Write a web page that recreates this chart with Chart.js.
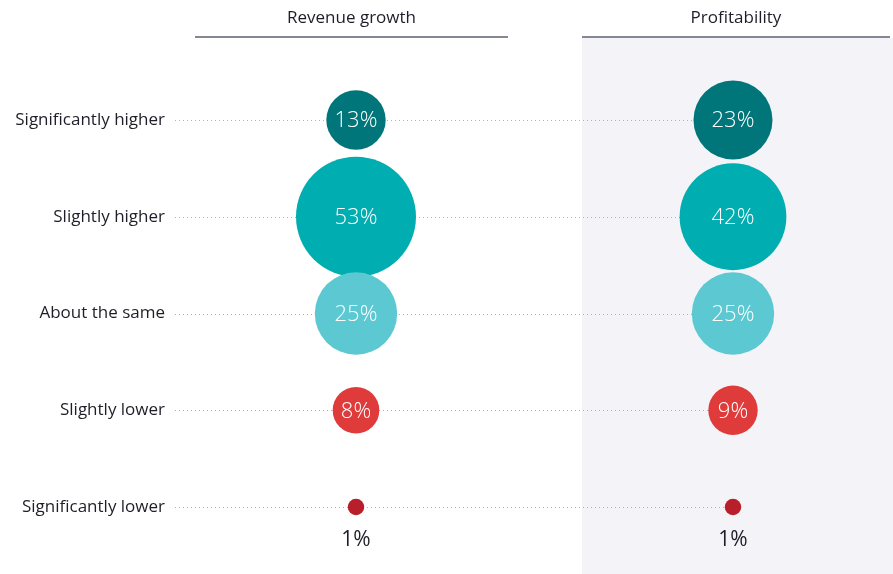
<!DOCTYPE html>
<html>
<head>
<meta charset="utf-8">
<script src="https://cdn.jsdelivr.net/npm/chart.js@4"></script>
<style>
html,body{margin:0;padding:0;background:#fff;}
#wrap{width:893px;height:574px;position:relative;}
</style>
</head>
<body>
<div id="wrap"><canvas id="c" width="893" height="574"></canvas></div>
<script>
const categories = ['Significantly higher', 'Slightly higher', 'About the same', 'Slightly lower', 'Significantly lower'];
const columns = ['Revenue growth', 'Profitability'];
const revenueGrowth = [13, 53, 25, 8, 1];
const profitability = [23, 42, 25, 9, 1];
const rowColors = ['#00767a', '#00adb0', '#5bc8d2', '#e03b3b', '#b81f2a'];

const FONT = '"Open Sans", "Liberation Sans", sans-serif';
const RADIUS_K = 8.24;

function pts(values, col) {
  return values.map((v, i) => ({ x: col, y: i, v: v }));
}

const bubbleLabels = {
  id: 'bubbleLabels',
  beforeDraw(chart) {
    const { ctx, chartArea, scales } = chart;
    const x1 = scales.x.getPixelForValue(1);
    ctx.save();
    ctx.fillStyle = '#f4f4f8';
    ctx.fillRect(x1 - 151, 38, chart.width - (x1 - 151), chart.height - 38);
    // headers
    ctx.font = '17px ' + FONT;
    ctx.fillStyle = '#1e1e28';
    ctx.textAlign = 'center';
    ctx.textBaseline = 'middle';
    columns.forEach((name, i) => {
      const px = scales.x.getPixelForValue(i);
      const l = i === 0 ? px - 161 : px - 151;
      const r = i === 0 ? px + 152 : chart.width - 3;
      ctx.fillText(name, (l + r) / 2, 18);
      ctx.strokeStyle = '#5a6070';
      ctx.lineWidth = 1.5;
      ctx.beginPath();
      ctx.moveTo(l, 37);
      ctx.lineTo(r, 37);
      ctx.stroke();
    });
    ctx.restore();
  },
  beforeDatasetsDraw(chart) {
    const { ctx, chartArea, scales } = chart;
    const x1 = scales.x.getPixelForValue(1);
    ctx.save();
    ctx.strokeStyle = '#b0b0b6';
    ctx.lineWidth = 1;
    ctx.setLineDash([1, 3]);
    categories.forEach((c, i) => {
      const y = Math.round(scales.y.getPixelForValue(i)) + 0.5;
      ctx.beginPath();
      ctx.moveTo(chartArea.left + 2, y);
      ctx.lineTo(x1, y);
      ctx.stroke();
    });
    ctx.restore();
  },
  afterDatasetsDraw(chart) {
    const { ctx } = chart;
    ctx.save();
    ctx.textAlign = 'center';
    ctx.textBaseline = 'middle';
    chart.data.datasets.forEach((ds, di) => {
      const meta = chart.getDatasetMeta(di);
      meta.data.forEach((el, i) => {
        const v = ds.data[i].v;
        const r = RADIUS_K * Math.sqrt(v);
        if (r > 15) {
          ctx.font = '300 22px ' + FONT;
          ctx.fillStyle = '#ffffff';
          ctx.fillText(v + '%', el.x, el.y + 1);
        } else {
          ctx.font = '400 21px ' + FONT;
          ctx.fillStyle = '#1e1e28';
          ctx.fillText(v + '%', el.x, el.y + 33);
        }
      });
    });
    ctx.restore();
  }
};

new Chart(document.getElementById('c'), {
  type: 'bubble',
  data: {
    datasets: [
      { label: columns[0], data: pts(revenueGrowth, 0) },
      { label: columns[1], data: pts(profitability, 1) }
    ]
  },
  options: {
    responsive: false,
    animation: false,
    events: [],
    layout: { padding: { top: 120, bottom: 67, left: 0, right: 0 } },
    elements: {
      point: {
        radius: (ctx) => RADIUS_K * Math.sqrt(ctx.raw.v),
        backgroundColor: (ctx) => rowColors[ctx.raw.y],
        borderWidth: 0,
        hoverRadius: 0
      }
    },
    datasets: { bubble: { clip: false } },
    plugins: { legend: { display: false }, tooltip: { enabled: false } },
    scales: {
      x: { type: 'linear', min: -0.4854, max: 1.2653, display: false },
      y: {
        type: 'linear', min: 0, max: 4, reverse: true,
        afterFit(scale) { scale.width = 173; },
        border: { display: false },
        grid: { display: false, drawTicks: false },
        ticks: {
          stepSize: 1,
          padding: 8,
          color: '#1e1e28',
          font: { family: FONT, size: 17 },
          callback: (v) => categories[v]
        }
      }
    }
  },
  plugins: [bubbleLabels]
});
</script>
</body>
</html>
